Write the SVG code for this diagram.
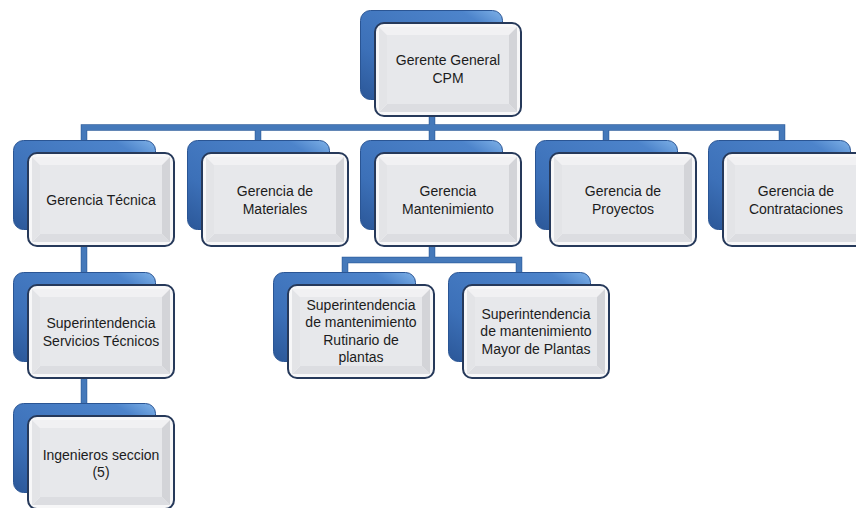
<svg xmlns="http://www.w3.org/2000/svg" xmlns:xlink="http://www.w3.org/1999/xlink" width="856" height="508" viewBox="0 0 856 508">
<style>
.t{font-family:"Liberation Sans",Arial,sans-serif;font-size:14px;fill:#1c1c1c;text-anchor:middle}
.edge{fill:none;stroke:#4579ba;stroke-width:5;stroke-linecap:square}
.edge-o{fill:none;stroke:#30609e;stroke-width:6.5;stroke-linecap:square}
</style>
<defs>
<linearGradient id="blueG" x1="1" y1="0" x2="0" y2="1">
<stop offset="0" stop-color="#7fb2e8"/>
<stop offset="0.15" stop-color="#4d84cb"/>
<stop offset="0.7" stop-color="#3c70b8"/>
<stop offset="1" stop-color="#2b5798"/>
</linearGradient>
<g id="card">
<rect x="0.5" y="0.5" width="142" height="89" rx="10" fill="url(#blueG)" stroke="#2a5594" stroke-width="1"/>
<rect x="15" y="13" width="146" height="93" rx="9" fill="#f7f7f8" stroke="#26395a" stroke-width="2"/>
<polygon points="19,17 157,17 149,25 27,25" fill="#f1f1f3"/>
<polygon points="19,102 157,102 149,94 27,94" fill="#dcdde1"/>
<polygon points="19,17 27,25 27,94 19,102" fill="#e3e4e7"/>
<polygon points="157,17 149,25 149,94 157,102" fill="#d3d4d8"/>
<rect x="27" y="25" width="122" height="69" fill="#e7e8eb"/>
</g>
</defs>
<rect width="856" height="508" fill="#ffffff"/>
<g id="connectors">
<path class="edge-o" d="M432 100 V127.5 M84 127.5 H782 M84 127.5 V142 M258 127.5 V142 M432 127.5 V142 M606 127.5 V142 M782 127.5 V142 M84 240 V274 M84 370 V405 M432 240 V260 M345 260 H519 M345 260 V274 M519 260 V274"/>
<path class="edge" d="M432 100 V127.5 M84 127.5 H782 M84 127.5 V142 M258 127.5 V142 M432 127.5 V142 M606 127.5 V142 M782 127.5 V142 M84 240 V274 M84 370 V405 M432 240 V260 M345 260 H519 M345 260 V274 M519 260 V274"/>
</g>
<g id="n-gerente-general">
<use xlink:href="#card" x="360" y="10"/>
<text class="t" x="448" y="65">Gerente General</text>
<text class="t" x="448" y="82.5">CPM</text>
</g>
<g id="n-gerencia-tecnica">
<use xlink:href="#card" x="13" y="140"/>
<text class="t" x="101" y="205">Gerencia Técnica</text>
</g>
<g id="n-gerencia-materiales">
<use xlink:href="#card" x="187" y="140"/>
<text class="t" x="275" y="196">Gerencia de</text>
<text class="t" x="275" y="213.5">Materiales</text>
</g>
<g id="n-gerencia-mantenimiento">
<use xlink:href="#card" x="360" y="140"/>
<text class="t" x="448" y="196">Gerencia</text>
<text class="t" x="448" y="213.5">Mantenimiento</text>
</g>
<g id="n-gerencia-proyectos">
<use xlink:href="#card" x="535" y="140"/>
<text class="t" x="623" y="196">Gerencia de</text>
<text class="t" x="623" y="213.5">Proyectos</text>
</g>
<g id="n-gerencia-contrataciones">
<use xlink:href="#card" x="708" y="140"/>
<text class="t" x="796" y="196">Gerencia de</text>
<text class="t" x="796" y="213.5">Contrataciones</text>
</g>
<g id="n-sup-servicios-tecnicos">
<use xlink:href="#card" x="13" y="272"/>
<text class="t" x="101" y="328">Superintendencia</text>
<text class="t" x="101" y="345.5">Servicios Técnicos</text>
</g>
<g id="n-ingenieros-seccion">
<use xlink:href="#card" x="13" y="403"/>
<text class="t" x="101" y="459.5">Ingenieros seccion</text>
<text class="t" x="101" y="477">(5)</text>
</g>
<g id="n-sup-mant-rutinario">
<use xlink:href="#card" x="273" y="272"/>
<text class="t" x="361" y="309.5">Superintendencia</text>
<text class="t" x="361" y="327">de mantenimiento</text>
<text class="t" x="361" y="344.5">Rutinario de</text>
<text class="t" x="361" y="362">plantas</text>
</g>
<g id="n-sup-mant-mayor">
<use xlink:href="#card" x="448" y="272"/>
<text class="t" x="536" y="318.5">Superintendencia</text>
<text class="t" x="536" y="336">de mantenimiento</text>
<text class="t" x="536" y="353.5">Mayor de Plantas</text>
</g>
</svg>
